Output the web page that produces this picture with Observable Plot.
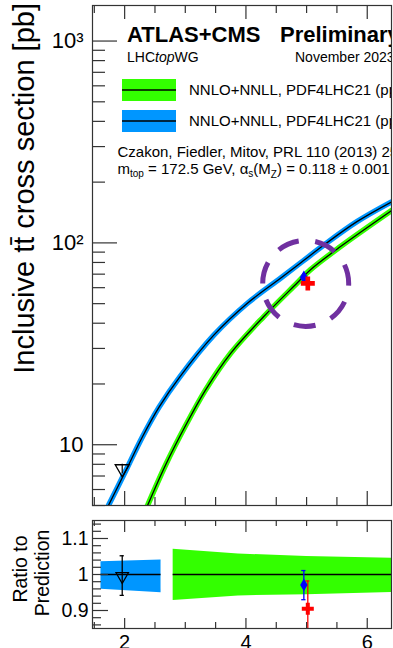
<!DOCTYPE html>
<html><head><meta charset="utf-8">
<script src="https://cdn.jsdelivr.net/npm/d3@7"></script>
<script src="https://cdn.jsdelivr.net/npm/@observablehq/plot@0.6"></script>
<style>
html,body{margin:0;padding:0;background:#fff;}
#wrap{position:relative;width:393px;height:648px;overflow:hidden;background:#fff;}
#wrap svg{position:absolute;left:0;}
</style></head><body><div id="wrap"></div>
<script>
// ---------- data ----------
// theory curves, main panel (sqrt(s) in TeV, sigma in pb)
const ppbarSqrtS = [1.715, 2.02, 2.29, 2.57, 2.91, 3.47, 4.02, 4.57, 4.95, 5.28, 5.83, 6.40];
const ppbarSigma = [4.88, 7.45, 10.9, 15.4, 21.7, 34.9, 50.1, 66.8, 81.7, 97.3, 127.4, 159.6];
const ppSqrtS = [2.37, 2.675, 3.005, 3.33, 3.745, 4.29, 4.84, 5.06, 5.56, 6.40];
const ppSigma = [4.94, 7.94, 12.45, 18.6, 28.3, 43.05, 63.1, 73.45, 95.9, 144.5];
// theory uncertainty bands, ratio panel
const ppbarBandSqrtS = [1.61, 2.60];
const ppbarBandLo = [0.959, 0.949];
const ppbarBandHi = [1.0355, 1.040];
const ppBandSqrtS = [2.80, 3.875, 5.00, 6.40];
const ppBandLo = [0.928, 0.9405, 0.944, 0.950];
const ppBandHi = [1.070, 1.057, 1.050, 1.045];
// measurements
const measNames = ["Tevatron", "ATLAS", "CMS"];
const measSqrtS = [1.96, 4.955, 5.02];
const measSigma = [7.60, 67.5, 63.0];
const measErr = [0.41, 2.7, 4.1];
const measRatio = [0.995, 0.971, 0.905];
const measRatioLo = [0.942, 0.930, 0.828];
const measRatioHi = [1.052, 1.011, 0.982];
// highlighted region
const highlightSqrtS = [4.985];
const highlightSigma = [63];
// axis ticks & labels
const yMainTicks = [10, 100, 1000];
const yMainTickLabels = ["10", "10²", "10³"];
const xTicks = [2, 4, 6];
const xTickLabels = ["2", "4", "6"];
const ratioTicks = [0.9, 1, 1.1];
const ratioTickLabels = ["0.9", "1", "1.1"];
// texts
const titleBold = "ATLAS+CMS";
const titlePrelim = "Preliminary";
const dateText = "November 2023";
const legendLabels = ["NNLO+NNLL, PDF4LHC21 (pp)", "NNLO+NNLL, PDF4LHC21 (pp̄)"];
const refText = "Czakon, Fiedler, Mitov, PRL 110 (2013) 252004";
const yTitle = "Inclusive tt̄ cross section [pb]";
const ratioTitle = ["Ratio to", "Prediction"];

// ---------- style ----------
const FONT = '"Liberation Sans", Arial, Helvetica, sans-serif';
const GREEN = "#33ff00", BLUE = "#0096ff", PURPLE = "#7030a0", AXIS = "#333";
const W = 393, ML = 92, MR = 2;
const FW = W - ML - MR;
const xDomain = [1.47, 6.4];

const ppbar = ppbarSqrtS.map((s, i) => ({s, v: ppbarSigma[i]}));
const pp = ppSqrtS.map((s, i) => ({s, v: ppSigma[i]}));
const ppbarBand = ppbarBandSqrtS.map((s, i) => ({s, lo: ppbarBandLo[i], hi: ppbarBandHi[i]}));
const ppBand = ppBandSqrtS.map((s, i) => ({s, lo: ppBandLo[i], hi: ppBandHi[i]}));
const meas = measSqrtS.map((s, i) => ({name: measNames[i], s, v: measSigma[i], e: measErr[i],
  r: measRatio[i], rlo: measRatioLo[i], rhi: measRatioHi[i]}));
const measColor = {Tevatron: "#000", ATLAS: "#0000ff", CMS: "#ff0000"};
const highlight = highlightSqrtS.map((s, i) => ({s, v: highlightSigma[i]}));

const xMinor = d3.range(1.5, 6.41, 0.5).filter(d => !xTicks.includes(d));
const yMinor = [];
for (const dec of [1, 10, 100, 1000]) for (let k = 2; k <= 9; k++) { const v = k * dec; if (v >= 5 && v <= 1500) yMinor.push(v); }
const rMinor = d3.range(0.86, 1.145, 0.02).map(d => +d.toFixed(2)).filter(d => !ratioTicks.some(t => Math.abs(t - d) < 1e-6));
const CAP = 0.035;

// ---------- main panel ----------
const MH = 512, MT = 5, MB = 7, FH = MH - MT - MB;
const mainLabel = new Map(yMainTicks.map((t, i) => [t, yMainTickLabels[i]]));
const main = Plot.plot({
  width: W, height: MH, marginLeft: ML, marginRight: MR, marginTop: MT, marginBottom: MB,
  style: {fontFamily: FONT, background: "transparent", color: "#000"},
  x: {domain: xDomain, axis: null},
  y: {type: "log", domain: [5, 1500], axis: null},
  marks: [
    Plot.line(ppbar, {x: "s", y: "v", stroke: BLUE, strokeWidth: 5.5, curve: "catmull-rom", clip: true}),
    Plot.line(ppbar, {x: "s", y: "v", stroke: "#000", strokeWidth: 1.3, curve: "catmull-rom", clip: true}),
    Plot.line(pp, {x: "s", y: "v", stroke: GREEN, strokeWidth: 5.5, curve: "catmull-rom", clip: true}),
    Plot.line(pp, {x: "s", y: "v", stroke: "#000", strokeWidth: 1.3, curve: "catmull-rom", clip: true}),
    Plot.dot(highlight, {x: "s", y: "v", r: 43, fill: "none", stroke: PURPLE, strokeWidth: 5,
      strokeDasharray: "22 16.6", strokeDashoffset: 19.7}),
    Plot.ruleX(meas, {x: "s", y1: d => d.v - d.e, y2: d => d.v + d.e, stroke: d => measColor[d.name], strokeWidth: 1.2}),
    Plot.dot(meas.filter(d => d.name === "Tevatron"), {x: "s", y: "v", symbol: "triangle", rotate: 180, r: 5.2, fill: "none", stroke: "#000", strokeWidth: 1.3}),
    Plot.dot(meas.filter(d => d.name === "ATLAS"), {x: "s", y: "v", symbol: "diamond", r: 4.2, fill: "#0000ff", stroke: "none"}),
    Plot.dot(meas.filter(d => d.name === "CMS"), {x: "s", y: "v", symbol: "cross", r: 5.9, fill: "#ff0000", stroke: "none"}),
    // ticks (inward)
    Plot.tickY(yMainTicks, {y: d => d, insetRight: FW - 25, stroke: AXIS, strokeWidth: 1.2}),
    Plot.tickY(yMinor, {y: d => d, insetRight: FW - 13, stroke: AXIS, strokeWidth: 1.2}),
    Plot.tickX(xTicks, {x: d => d, insetBottom: FH - 14, stroke: AXIS, strokeWidth: 1.2}),
    Plot.tickX(xMinor, {x: d => d, insetBottom: FH - 8, stroke: AXIS, strokeWidth: 1.2}),
    Plot.tickX(xTicks, {x: d => d, insetTop: FH - 14, stroke: AXIS, strokeWidth: 1.2}),
    Plot.tickX(xMinor, {x: d => d, insetTop: FH - 8, stroke: AXIS, strokeWidth: 1.2}),
    Plot.frame({stroke: AXIS, strokeWidth: 1.2}),
    Plot.axisY(yMainTicks, {tickSize: 0, tickPadding: 9, tickFormat: d => mainLabel.get(d), fontSize: 22, fill: "#000", label: null})
  ]
});
main.style.top = "0px";

// ---------- ratio panel ----------
const RH = 136, RT = 8, RB = 20, RFH = RH - RT - RB;
const rLabel = new Map(ratioTicks.map((t, i) => [t, ratioTickLabels[i]]));
const xLabel = new Map(xTicks.map((t, i) => [t, xTickLabels[i]]));
const ratio = Plot.plot({
  width: W, height: RH, marginLeft: ML, marginRight: MR, marginTop: RT, marginBottom: RB,
  style: {fontFamily: FONT, background: "transparent", color: "#000", overflow: "visible"},
  x: {domain: xDomain, axis: null},
  y: {domain: [0.85, 1.15], axis: null},
  marks: [
    Plot.areaY(ppbarBand, {x: "s", y1: "lo", y2: "hi", fill: BLUE}),
    Plot.areaY(ppBand, {x: "s", y1: "lo", y2: "hi", fill: GREEN}),
    Plot.ruleY([1], {x1: ppbarBandSqrtS[0], x2: ppbarBandSqrtS[ppbarBandSqrtS.length - 1], stroke: "#000", strokeWidth: 1.3}),
    Plot.ruleY([1], {x1: ppBandSqrtS[0], x2: ppBandSqrtS[ppBandSqrtS.length - 1], stroke: "#000", strokeWidth: 1.3}),
    Plot.ruleX(meas, {x: "s", y1: "rlo", y2: "rhi", stroke: d => measColor[d.name], strokeWidth: 1.3, clip: true}),
    Plot.ruleY(meas, {y: "rhi", x1: d => d.s - CAP, x2: d => d.s + CAP, stroke: d => measColor[d.name], strokeWidth: 1.3, clip: true}),
    Plot.ruleY(meas, {y: "rlo", x1: d => d.s - CAP, x2: d => d.s + CAP, stroke: d => measColor[d.name], strokeWidth: 1.3, clip: true}),
    Plot.dot(meas.filter(d => d.name === "Tevatron"), {x: "s", y: "r", symbol: "triangle", rotate: 180, r: 4.6, fill: "none", stroke: "#000", strokeWidth: 1.3}),
    Plot.dot(meas.filter(d => d.name === "ATLAS"), {x: "s", y: "r", symbol: "diamond", r: 3.9, fill: "#0000ff", stroke: "none"}),
    Plot.dot(meas.filter(d => d.name === "CMS"), {x: "s", y: "r", symbol: "cross", r: 5.05, fill: "#ff0000", stroke: "none"}),
    Plot.tickY(ratioTicks, {y: d => d, insetRight: FW - 16, stroke: AXIS, strokeWidth: 1.2}),
    Plot.tickY(rMinor, {y: d => d, insetRight: FW - 9, stroke: AXIS, strokeWidth: 1.2}),
    Plot.tickX(xTicks, {x: d => d, insetBottom: RFH - 12, stroke: AXIS, strokeWidth: 1.2}),
    Plot.tickX(xMinor, {x: d => d, insetBottom: RFH - 6, stroke: AXIS, strokeWidth: 1.2}),
    Plot.tickX(xTicks, {x: d => d, insetTop: RFH - 10, stroke: AXIS, strokeWidth: 1.2}),
    Plot.tickX(xMinor, {x: d => d, insetTop: RFH - 6, stroke: AXIS, strokeWidth: 1.2}),
    Plot.frame({stroke: AXIS, strokeWidth: 1.2}),
    Plot.axisY(ratioTicks, {tickSize: 0, tickPadding: 4, tickFormat: d => rLabel.get(d), fontSize: 19.5, fill: "#000", label: null}),
    Plot.axisX(xTicks, {tickSize: 0, tickPadding: 6, tickFormat: d => xLabel.get(d), fontSize: 20, fill: "#000", label: null})
  ]
});
ratio.style.top = MH + "px";

// ---------- overlay texts & legend ----------
const ov = d3.create("svg").attr("width", 391).attr("height", 648)
  .style("top", "0px").attr("font-family", FONT).style("pointer-events", "none");
ov.append("text").attr("x", 127).attr("y", 42).attr("font-size", 22).attr("font-weight", "bold").text(titleBold);
ov.append("text").attr("x", 280).attr("y", 42).attr("font-size", 22).attr("font-weight", "bold").text(titlePrelim);
const lhc = ov.append("text").attr("x", 127).attr("y", 62).attr("font-size", 14);
lhc.append("tspan").text("LHC");
lhc.append("tspan").attr("font-style", "italic").text("top");
lhc.append("tspan").text("WG");
ov.append("text").attr("x", 295).attr("y", 62).attr("font-size", 14).text(dateText);
const legColors = [GREEN, BLUE];
[[79, 94.5], [110, 125.7]].forEach(([ry, ty], i) => {
  ov.append("rect").attr("x", 122).attr("y", ry).attr("width", 54).attr("height", 22).attr("fill", legColors[i]);
  ov.append("line").attr("x1", 122).attr("x2", 176).attr("y1", ry + 11).attr("y2", ry + 11).attr("stroke", "#000").attr("stroke-width", 1.3);
  ov.append("text").attr("x", 189).attr("y", ty).attr("font-size", 15).text(legendLabels[i]);
});
ov.append("text").attr("x", 117.5).attr("y", 157).attr("font-size", 15).text(refText);
const m = ov.append("text").attr("x", 117.5).attr("y", 174).attr("font-size", 15);
m.append("tspan").text("m");
m.append("tspan").attr("font-size", 10).attr("dy", 3).text("top");
m.append("tspan").attr("dy", -3).text(" = 172.5 GeV, α");
m.append("tspan").attr("font-size", 10).attr("dy", 3).text("s");
m.append("tspan").attr("dy", -3).text("(M");
m.append("tspan").attr("font-size", 10).attr("dy", 4).text("Z");
m.append("tspan").attr("dy", -4).text(") = 0.118 ± 0.001");
ov.append("text").attr("transform", "translate(33.5,3) rotate(-90)").attr("text-anchor", "end")
  .attr("font-size", 29).text(yTitle);
ov.append("text").attr("transform", "translate(27,569) rotate(-90)").attr("text-anchor", "middle")
  .attr("font-size", 19.5).text(ratioTitle[0]);
ov.append("text").attr("transform", "translate(48.5,573) rotate(-90)").attr("text-anchor", "middle")
  .attr("font-size", 19.5).text(ratioTitle[1]);

const wrap = document.getElementById("wrap");
wrap.append(main, ratio, ov.node());
</script></body></html>
